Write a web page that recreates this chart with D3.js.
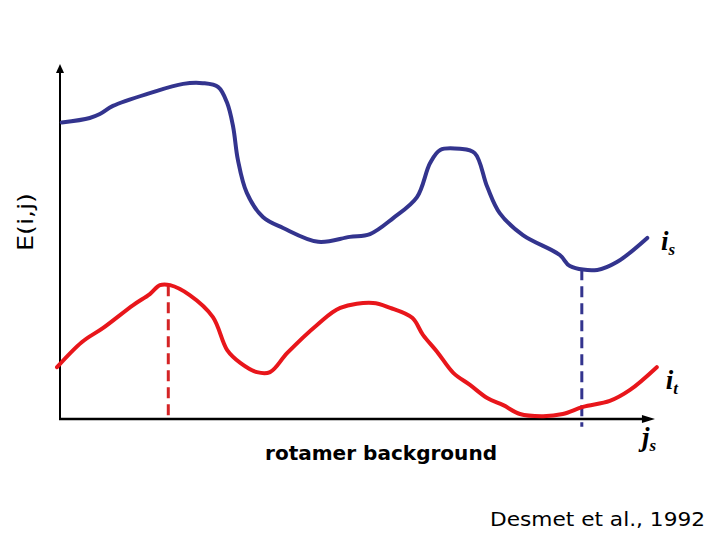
<!DOCTYPE html>
<html><head><meta charset="utf-8">
<script src="https://cdn.jsdelivr.net/npm/d3@7"></script>
<style>body{margin:0;background:#fff}svg{display:block}</style>
</head><body>
<script>
// Data (arbitrary units: x = rotamer background position, y = energy E(i,j))
const blueX = [0.03,0.50,0.67,0.89,1.51,2.07,2.40,2.66,2.81,2.91,2.99,3.14,3.41,3.75,4.34,4.87,5.21,5.60,6.00,6.22,6.39,6.72,6.97,7.18,7.39,7.78,8.40,8.57,9.03,9.36,9.87];
const blueY = [8.35,8.48,8.59,8.82,9.18,9.44,9.46,9.35,8.90,8.23,7.30,6.37,5.69,5.38,4.99,5.13,5.21,5.66,6.25,7.21,7.58,7.61,7.49,6.54,5.80,5.18,4.62,4.31,4.20,4.42,5.10];
const redX = [-0.05,0.37,0.72,1.23,1.51,1.68,1.85,2.18,2.57,2.81,3.03,3.31,3.53,3.82,4.32,4.71,5.26,5.55,5.92,6.10,6.34,6.61,6.89,7.18,7.45,7.73,8.12,8.45,8.79,9.24,9.58,10.03];
const redY = [1.46,2.17,2.56,3.21,3.52,3.77,3.77,3.49,2.87,1.94,1.58,1.32,1.32,1.86,2.65,3.13,3.27,3.13,2.85,2.37,1.89,1.30,0.96,0.59,0.39,0.14,0.08,0.14,0.34,0.51,0.82,1.46];
const redMarkX = 1.82, redMarkY = 3.77;
const blueMarkX = 8.77, blueMarkY = 4.22;
const seriesLabels = [{base:"i", sub:"s"}, {base:"i", sub:"t"}];
const axisLabelX = "rotamer background";
const axisLabelY = "E(i,j)";
const citation = "Desmet et al., 1992";

const W = 720, H = 540;
const svg = d3.select("body").append("svg").attr("width", W).attr("height", H);
const x = d3.scaleLinear().domain([0, 10]).range([60, 655]);
const y = d3.scaleLinear().domain([0, 10]).range([419, 64]);

const blue = "#33348e", red = "#e8161b";

// axes
svg.append("line").attr("x1", x(0)).attr("x2", x(0)).attr("y1", y(0)+1).attr("y2", y(9.9))
  .attr("stroke", "#000").attr("stroke-width", 2);
svg.append("path").attr("d", d3.line()([[x(0)-4, y(9.75)],[x(0), y(10)],[x(0)+4, y(9.75)]]) + "Z").attr("fill", "#000");
svg.append("line").attr("x1", x(0)-1).attr("x2", x(9.9)).attr("y1", y(0)).attr("y2", y(0))
  .attr("stroke", "#000").attr("stroke-width", 2.5);
svg.append("path").attr("d", d3.line()([[x(9.78), y(0)-4],[x(10), y(0)],[x(9.78), y(0)+4]]) + "Z").attr("fill", "#000");

// dashed markers
svg.append("line").attr("x1", x(redMarkX)).attr("x2", x(redMarkX)).attr("y1", y(redMarkY)).attr("y2", y(0))
  .attr("stroke", "#d42426").attr("stroke-width", 3).attr("stroke-dasharray", "11,6");
svg.append("line").attr("x1", x(blueMarkX)).attr("x2", x(blueMarkX)).attr("y1", y(blueMarkY)).attr("y2", y(-0.22))
  .attr("stroke", blue).attr("stroke-width", 3).attr("stroke-dasharray", "11,6");

// curves
const line = d3.line().x(d => x(d[0])).y(d => y(d[1])).curve(d3.curveCatmullRom.alpha(0.5));
svg.append("path").datum(blueX.map((v,i)=>[v, blueY[i]])).attr("d", line)
  .attr("fill", "none").attr("stroke", blue).attr("stroke-width", 4).attr("stroke-linecap", "round");
svg.append("path").datum(redX.map((v,i)=>[v, redY[i]])).attr("d", line)
  .attr("fill", "none").attr("stroke", red).attr("stroke-width", 4).attr("stroke-linecap", "round");

// series labels
function italicLabel(px, py, lab) {
  const t = svg.append("text").attr("x", px).attr("y", py)
    .attr("font-family", "Liberation Serif, serif").attr("font-style", "italic").attr("font-weight", "bold")
    .attr("font-size", 27).attr("fill", "#000");
  t.append("tspan").text(lab.base);
  t.append("tspan").attr("dy", 5).attr("font-size", 17).text(lab.sub);
}
italicLabel(x(10.1), y(4.75), seriesLabels[0]);
italicLabel(x(10.18), y(0.85), seriesLabels[1]);
italicLabel(x(9.78), y(-0.75), {base:"j", sub:"s"});

// axis labels
svg.append("text").attr("transform", `translate(${x(-0.45)},${y(5.55)}) rotate(-90)`)
  .attr("text-anchor", "middle").attr("font-family", "DejaVu Sans, sans-serif").attr("font-size", 21)
  .attr("textLength", 58).attr("lengthAdjust", "spacingAndGlyphs").text(axisLabelY);
svg.append("text").attr("x", 265).attr("y", 460)
  .attr("font-family", "DejaVu Sans, sans-serif").attr("font-size", 20).attr("font-weight", "bold")
  .attr("textLength", 232).attr("lengthAdjust", "spacingAndGlyphs").text(axisLabelX);
svg.append("text").attr("x", 490).attr("y", 526)
  .attr("font-family", "DejaVu Sans, sans-serif").attr("font-size", 20)
  .attr("textLength", 215).attr("lengthAdjust", "spacingAndGlyphs").text(citation);
</script>
</body></html>
